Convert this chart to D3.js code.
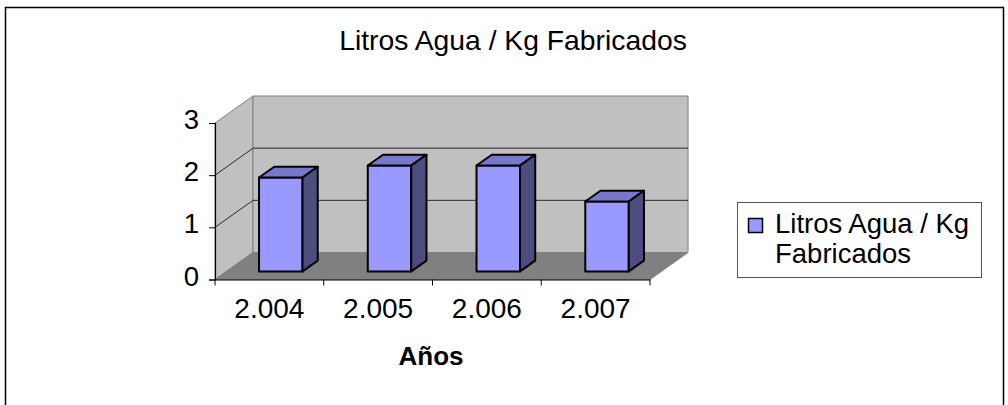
<!DOCTYPE html>
<html>
<head>
<meta charset="utf-8">
<script src="https://cdn.jsdelivr.net/npm/d3@7"></script>
<style>
  body { margin: 0; background: #fff; }
  text { font-family: "Liberation Sans", Arial, sans-serif; fill: #000; }
</style>
</head>
<body>
<div id="chart"></div>
<script>
// data
let years = ['2.004', '2.005', '2.006', '2.007'];
let litros = [1.80, 2.03, 2.03, 1.34];
let yTicks = [0, 1, 2, 3];
let seriesName = 'Litros Agua / Kg Fabricados';

let W = 1008, H = 405;

// plot area (front plane)
let plotLeft = 215, plotRight = 650, plotBottom = 279.5, plotTop = 123;
// 3d depth offset
let depthX = 38, depthY = -27;
let barFront = 0.3, barBack = 0.7;

let svg = d3.select('#chart').append('svg')
    .attr('width', W)
    .attr('height', H);

// outer frame
svg.append('rect')
    .attr('x', 5.5).attr('y', 7.5)
    .attr('width', 998).attr('height', 420)
    .attr('fill', '#fff')
    .attr('stroke', '#000')
    .attr('stroke-width', 1.5);

let x = d3.scaleBand()
    .domain(years)
    .range([plotLeft, plotRight])
    .paddingInner(0.6)
    .paddingOuter(0.3);

let y = d3.scaleLinear()
    .domain([0, 3])
    .range([plotBottom, plotTop]);

function pt(px, py, f) {
    return [px + depthX * f, py + depthY * f];
}
function poly(points) {
    return points.map(p => p.join(',')).join(' ');
}

// side wall
svg.append('polygon')
    .attr('points', poly([pt(plotLeft, y(0), 0), pt(plotLeft, y(3), 0), pt(plotLeft, y(3), 1), pt(plotLeft, y(0), 1)]))
    .attr('fill', '#c0c0c0')
    .attr('stroke', '#808080');

// back wall
svg.append('polygon')
    .attr('points', poly([pt(plotLeft, y(0), 1), pt(plotLeft, y(3), 1), pt(plotRight, y(3), 1), pt(plotRight, y(0), 1)]))
    .attr('fill', '#c0c0c0')
    .attr('stroke', '#808080');

// floor
svg.append('polygon')
    .attr('points', poly([pt(plotLeft, y(0), 0), pt(plotRight, y(0), 0), pt(plotRight, y(0), 1), pt(plotLeft, y(0), 1)]))
    .attr('fill', '#808080')
    .attr('stroke', '#808080');

// gridlines
let grid = yTicks.filter(d => d > 0 && d < 3);
grid.forEach(function(v) {
    let a = pt(plotLeft, y(v), 0), b = pt(plotLeft, y(v), 1), c = pt(plotRight, y(v), 1);
    svg.append('polyline')
        .attr('points', poly([a, b, c]))
        .attr('fill', 'none')
        .attr('stroke', '#2a2a2a')
        .attr('stroke-width', 1);
});

// bars
let bars = svg.selectAll('.bar')
    .data(litros)
    .enter().append('g')
    .attr('class', 'bar');

bars.each(function(d, i) {
    let g = d3.select(this);
    let x0 = x(years[i]), x1 = x0 + x.bandwidth();
    let yb = y(0), yt = y(d);
    let f0 = barFront, f1 = barBack;
    // front
    g.append('polygon')
        .attr('points', poly([pt(x0, yb, f0), pt(x0, yt, f0), pt(x1, yt, f0), pt(x1, yb, f0)]))
        .attr('fill', '#9999ff');
    // top
    g.append('polygon')
        .attr('points', poly([pt(x0, yt, f0), pt(x0, yt, f1), pt(x1, yt, f1), pt(x1, yt, f0)]))
        .attr('fill', '#7777cc');
    // side
    g.append('polygon')
        .attr('points', poly([pt(x1, yb, f0), pt(x1, yt, f0), pt(x1, yt, f1), pt(x1, yb, f1)]))
        .attr('fill', '#4d4d80');
    g.selectAll('polygon')
        .attr('stroke', '#000')
        .attr('stroke-width', 2)
        .attr('stroke-linejoin', 'round');
});

// y axis
let yAxis = svg.append('g')
    .attr('transform', 'translate(' + plotLeft + ',0)')
    .call(d3.axisLeft(y).tickValues(yTicks).tickSize(6).tickPadding(10).tickFormat(d3.format('d')));
yAxis.select('.domain').attr('stroke', '#000').attr('stroke-width', 1.2);
yAxis.selectAll('.tick line').attr('stroke', '#000');
yAxis.selectAll('.tick text')
    .attr('font-size', 27.5)
    .attr('font-family', '"Liberation Sans", Arial, sans-serif')
    .attr('dy', '0.2em');

// x axis
let xAxis = svg.append('g')
    .attr('transform', 'translate(0,' + plotBottom + ')')
    .call(d3.axisBottom(x).tickSize(0).tickPadding(12).tickSizeOuter(0));
xAxis.select('.domain').attr('stroke', '#000').attr('stroke-width', 1.2);
xAxis.selectAll('.tick text')
    .attr('font-size', 28)
    .attr('font-family', '"Liberation Sans", Arial, sans-serif')
    .attr('dy', '0.93em');

// category boundary ticks
let bounds = years.map(d => x(d) - x.step() * x.paddingInner() / 2);
bounds[0] = plotLeft;
bounds.push(plotRight);
xAxis.selectAll('.btick')
    .data(bounds)
    .enter().append('line')
    .attr('class', 'btick')
    .attr('x1', d => d).attr('x2', d => d)
    .attr('y1', 0).attr('y2', 6)
    .attr('stroke', '#000');

// title
svg.append('text')
    .attr('x', 513).attr('y', 50)
    .attr('text-anchor', 'middle')
    .attr('font-size', 28.3)
    .text(seriesName);

// axis title
svg.append('text')
    .attr('x', 431).attr('y', 365)
    .attr('text-anchor', 'middle')
    .attr('font-size', 26)
    .attr('font-weight', 'bold')
    .text('Años');

// legend
let legend = svg.append('g');
legend.append('rect')
    .attr('x', 737.5).attr('y', 202.5)
    .attr('width', 244).attr('height', 75)
    .attr('fill', '#fff')
    .attr('stroke', '#555')
    .attr('stroke-width', 1);
legend.append('rect')
    .attr('x', 748.5).attr('y', 218.5)
    .attr('width', 14).attr('height', 14)
    .attr('fill', '#9999ff')
    .attr('stroke', '#000')
    .attr('stroke-width', 1.5);
legend.append('text')
    .attr('x', 775).attr('y', 233)
    .attr('font-size', 27.5)
    .text('Litros Agua / Kg');
legend.append('text')
    .attr('x', 775).attr('y', 263)
    .attr('font-size', 27.5)
    .text('Fabricados');
</script>
</body>
</html>
